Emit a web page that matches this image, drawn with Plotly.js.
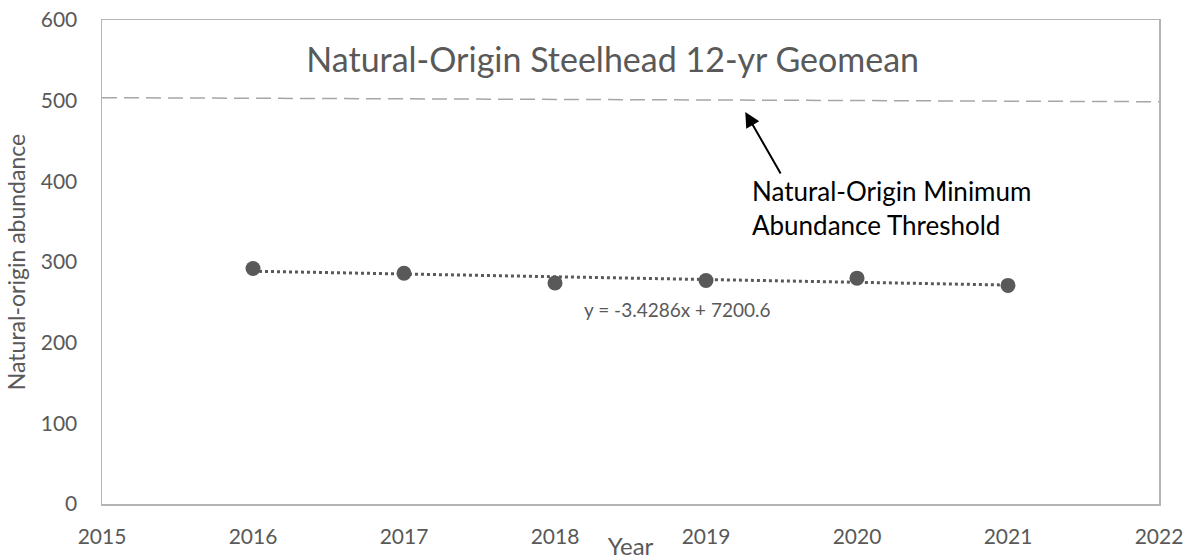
<!DOCTYPE html>
<html>
<head>
<meta charset="utf-8">
<script src="https://cdn.plot.ly/plotly-3.0.1.min.js"></script>
<style>html,body{margin:0;padding:0;background:#fff;}#chart{width:1192px;height:560px;}</style>
</head>
<body>
<div id="chart"></div>
<script>
// ---- data ----
const years = [2016, 2017, 2018, 2019, 2020, 2021];
const abundance = [292, 286, 274, 277, 280, 271];
const thresholdX = [2015, 2022];
const thresholdY = [503.7, 498.7];
const xTicks = [2015, 2016, 2017, 2018, 2019, 2020, 2021, 2022];
const yTicks = [0, 100, 200, 300, 400, 500, 600];
const chartTitle = 'Natural-Origin Steelhead 12-yr Geomean';
const thresholdLabel = 'Natural-Origin Minimum<br>Abundance Threshold';

// ---- linear regression (trendline) ----
const n = years.length;
const mx = years.reduce((a, b) => a + b, 0) / n;
const my = abundance.reduce((a, b) => a + b, 0) / n;
let sxy = 0, sxx = 0;
for (let i = 0; i < n; i++) { sxy += (years[i] - mx) * (abundance[i] - my); sxx += (years[i] - mx) ** 2; }
const slope = sxy / sxx;
const intercept = my - slope * mx;
const trendX = [years[0], years[n - 1]];
const trendY = trendX.map(x => slope * x + intercept);
const eqText = 'y = ' + slope.toFixed(4) + 'x + ' + intercept.toFixed(1);

const FONT = 'Lato, "Open Sans", sans-serif';
const GREY = '#595959';

const traces = [
  { x: thresholdX, y: thresholdY, mode: 'lines', type: 'scatter', hoverinfo: 'skip',
    line: { color: '#a6a6a6', width: 1.5, dash: '15px,7px' } },
  { x: trendX, y: trendY, mode: 'lines', type: 'scatter', hoverinfo: 'skip',
    line: { color: GREY, width: 3, dash: 'dot' } },
  { x: years, y: abundance, mode: 'markers', type: 'scatter',
    marker: { color: GREY, size: 15 } }
];

const layout = {
  width: 1192, height: 560,
  margin: { l: 102, r: 33, t: 20, b: 56 },
  showlegend: false,
  paper_bgcolor: '#fff', plot_bgcolor: '#fff',
  font: { family: FONT, color: GREY },
  title: { text: chartTitle, font: { family: FONT, size: 34, color: GREY },
           xref: 'container', yref: 'container', x: 0.514, y: 1 - 60 / 560,
           xanchor: 'center', yanchor: 'middle' },
  xaxis: {
    range: [2015, 2022], tickvals: xTicks, ticktext: xTicks.map(String),
    showgrid: false, zeroline: false, showline: true, mirror: true,
    linecolor: '#b4b4b4', linewidth: 1.5, ticks: '', ticklabelstandoff: 13,
    tickfont: { family: FONT, size: 21, color: GREY },
    title: { text: 'Year', font: { family: FONT, size: 24, color: GREY }, standoff: 5 }
  },
  yaxis: {
    range: [0, 600], tickvals: yTicks, ticktext: yTicks.map(String),
    showgrid: false, zeroline: false, showline: true, mirror: true,
    linecolor: '#b4b4b4', linewidth: 1.5, ticks: '', ticklabelstandoff: 19,
    tickfont: { family: FONT, size: 21, color: GREY },
    title: { text: 'Natural-origin abundance', font: { family: FONT, size: 23, color: GREY }, standoff: 8 }
  },
  annotations: [
    { x: 2019.26, y: 486, xref: 'x', yref: 'y', text: '', showarrow: true,
      ax: 2019.5, ay: 408, axref: 'x', ayref: 'y',
      arrowhead: 2, arrowsize: 1.5, arrowwidth: 2, arrowcolor: '#000' },
    { x: 2019.29, y: (504 - 208) / 0.8067, xref: 'x', yref: 'y', text: thresholdLabel,
      showarrow: false, xanchor: 'left', yanchor: 'middle', align: 'left',
      font: { family: FONT, size: 26, color: '#000' } },
    { x: 2018.81, y: 241, xref: 'x', yref: 'y', text: eqText, showarrow: false,
      xanchor: 'center', yanchor: 'middle',
      font: { family: FONT, size: 19, color: GREY } }
  ]
};

Plotly.newPlot('chart', traces, layout, { displayModeBar: false, staticPlot: true });
</script>
</body>
</html>
